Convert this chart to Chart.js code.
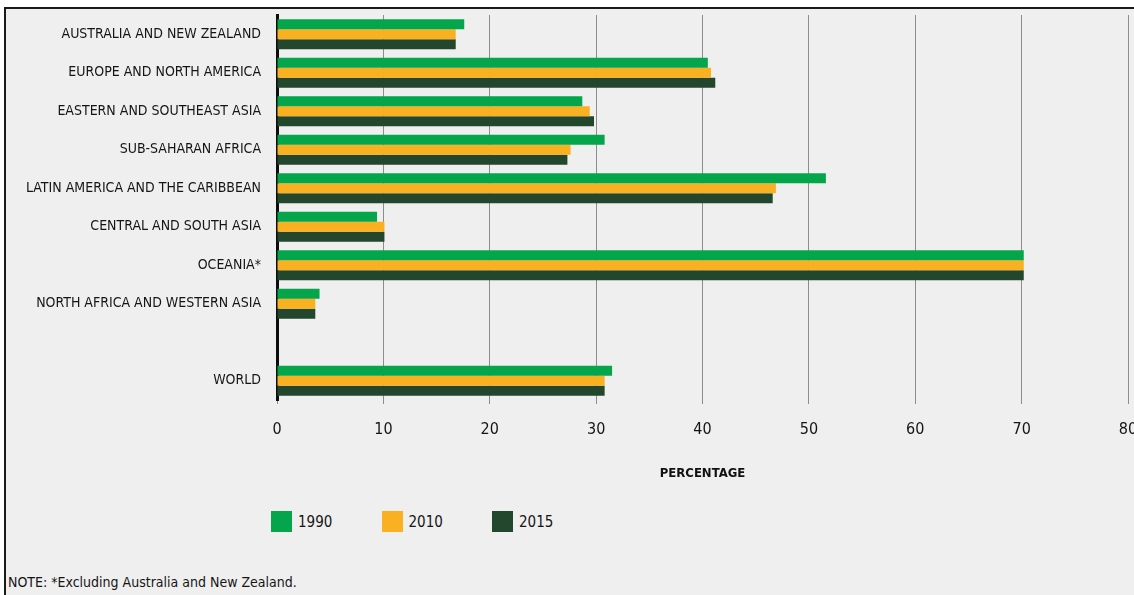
<!DOCTYPE html>
<html>
<head>
<meta charset="utf-8">
<script src="https://cdn.jsdelivr.net/npm/chart.js@4.4.1/dist/chart.umd.min.js"></script>
<style>
  html, body { margin: 0; padding: 0; background: #fff; }
  body { width: 1134px; height: 595px; position: relative; overflow: hidden;
         font-family: 'DejaVu Sans Condensed', 'Liberation Sans Narrow', sans-serif; color: #151515; }
  .frame { position: absolute; left: 4px; top: 7px; right: 0; bottom: 0; background: #efefef;
           border-top: 2px solid #1a1a1a; border-left: 2px solid #1a1a1a; }
  .chart-box { position: absolute; left: 0; top: 0; width: 1134px; height: 495px; }
  .legend { position: absolute; top: 511px; left: 271px; display: flex; }
  .legend-item { display: flex; align-items: center; width: 110.5px; font-size: 15px; }
  .swatch { width: 21px; height: 21px; margin-right: 6px; }
  .note { position: absolute; left: 8px; top: 574px; font-size: 14px; }
</style>
</head>
<body>
<div class="frame"></div>
<div class="chart-box"><canvas id="chart"></canvas></div>
<div class="legend" id="legend"></div>
<div class="note">NOTE: *Excluding Australia and New Zealand.</div>
<script>
// valeurs (pourcentage)
const regions = [
  'AUSTRALIA AND NEW ZEALAND',
  'EUROPE AND NORTH AMERICA',
  'EASTERN AND SOUTHEAST ASIA',
  'SUB-SAHARAN AFRICA',
  'LATIN AMERICA AND THE CARIBBEAN',
  'CENTRAL AND SOUTH ASIA',
  'OCEANIA*',
  'NORTH AFRICA AND WESTERN ASIA',
  '',
  'WORLD'
];
const years = ['1990', '2010', '2015'];
const share1990 = [17.6, 40.5, 28.7, 30.8, 51.6, 9.4, 70.2, 4.0, null, 31.5];
const share2010 = [16.8, 40.8, 29.4, 27.6, 46.9, 10.1, 70.2, 3.6, null, 30.8];
const share2015 = [16.8, 41.2, 29.8, 27.3, 46.6, 10.1, 70.2, 3.6, null, 30.8];
const xTicks = [0, 10, 20, 30, 40, 50, 60, 70, 80];
const xTitle = 'PERCENTAGE';

const colors = ['#05a64b', '#f9b122', '#22472d'];
const series = [share1990, share2010, share2015];
const FONT = "'DejaVu Sans Condensed', 'Liberation Sans Narrow', sans-serif";

const ctx = document.getElementById('chart').getContext('2d');
const chart = new Chart(ctx, {
  type: 'bar',
  data: {
    labels: regions,
    datasets: years.map((y, i) => ({
      label: y,
      data: series[i],
      backgroundColor: colors[i],
      borderWidth: 0,
      categoryPercentage: 0.78,
      barPercentage: 1.0
    }))
  },
  options: {
    indexAxis: 'y',
    responsive: true,
    maintainAspectRatio: false,
    animation: false,
    layout: { padding: { top: 15, left: 0, right: 6, bottom: 0 } },
    plugins: {
      legend: { display: false },
      tooltip: { enabled: false }
    },
    scales: {
      x: {
        min: xTicks[0],
        max: xTicks[xTicks.length - 1],
        afterBuildTicks: (s) => { s.ticks = xTicks.map(v => ({ value: v })); },
        afterFit: (s) => { s.height = 95; s.paddingLeft = 0; s.paddingRight = 0; },
        grid: { color: '#8c8c8c', lineWidth: 1, tickLength: 4, drawTicks: true },
        border: { display: false },
        ticks: { color: '#151515', padding: 16, font: { family: FONT, size: 16 } },
        title: {
          display: true,
          text: xTitle,
          color: '#111',
          font: { family: FONT, size: 13, weight: 'bold' },
          padding: { top: 0, bottom: 14 }
        }
      },
      y: {
        afterFit: (s) => { s.width = 277; s.paddingTop = 0; s.paddingBottom = 0; },
        grid: { display: false, drawTicks: false },
        border: { display: true, color: '#0d0d0d', width: 3 },
        ticks: { color: '#151515', padding: 16, font: { family: FONT, size: 14 } }
      }
    }
  }
});

const legendEl = document.getElementById('legend');
years.forEach((y, i) => {
  const item = document.createElement('div');
  item.className = 'legend-item';
  item.innerHTML = `<span class="swatch" style="background:${colors[i]}"></span>${y}`;
  legendEl.appendChild(item);
});
</script>
</body>
</html>
